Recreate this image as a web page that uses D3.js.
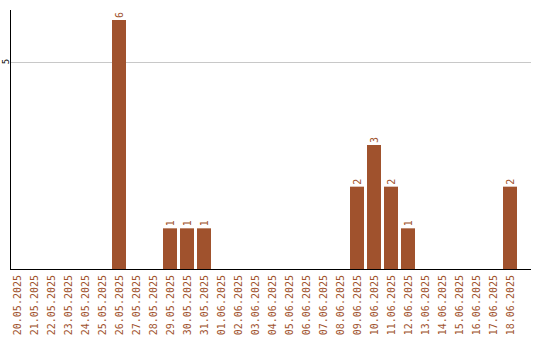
<!DOCTYPE html>
<html>
<head>
<meta charset="utf-8">
<script src="https://cdn.jsdelivr.net/npm/d3@7"></script>
<style>
  body { margin: 0; background: #fff; }
  text { font-family: "DejaVu Sans Mono", monospace; font-size: 10px; }
</style>
</head>
<body>
<div id="chart"></div>
<script>
const dates = ["20.05.2025","21.05.2025","22.05.2025","23.05.2025","24.05.2025","25.05.2025",
  "26.05.2025","27.05.2025","28.05.2025","29.05.2025","30.05.2025","31.05.2025",
  "01.06.2025","02.06.2025","03.06.2025","04.06.2025","05.06.2025","06.06.2025",
  "07.06.2025","08.06.2025","09.06.2025","10.06.2025","11.06.2025","12.06.2025",
  "13.06.2025","14.06.2025","15.06.2025","16.06.2025","17.06.2025","18.06.2025"];
const counts = [0,0,0,0,0,0, 6,0,0,1,1,1, 0,0,0,0,0,0, 0,0,2,3,2,1, 0,0,0,0,0,2];
const yTicks = [5];

const color = "#a0522d";
const width = 540, height = 340;

const data = dates.map((d, i) => ({ date: d, value: counts[i] }));

const svg = d3.select("#chart")
  .append("svg")
  .attr("width", width)
  .attr("height", height);

const xScale = d3.scaleBand()
  .domain(dates)
  .range([10, 517])
  .paddingInner(3 / 17)
  .paddingOuter(0);

const yScale = d3.scaleLinear()
  .domain([0, 6])
  .range([270, 20]);

// grid
svg.selectAll(".grid")
  .data(yTicks)
  .enter()
  .append("line")
  .attr("x1", 11)
  .attr("x2", 531)
  .attr("y1", d => Math.round(yScale(d)) + 0.5)
  .attr("y2", d => Math.round(yScale(d)) + 0.5)
  .attr("stroke", "#c8c8c8");

// bars
svg.selectAll(".bar")
  .data(data.filter(d => d.value > 0))
  .enter()
  .append("rect")
  .attr("class", "bar")
  .attr("x", d => xScale(d.date))
  .attr("y", d => yScale(d.value))
  .attr("width", xScale.bandwidth())
  .attr("height", d => yScale(0) - yScale(d.value))
  .attr("fill", color);

// value labels
svg.selectAll(".label")
  .data(data.filter(d => d.value > 0))
  .enter()
  .append("text")
  .attr("class", "label")
  .attr("transform", d => `translate(${xScale(d.date) + xScale.bandwidth() / 2 + 3.5},${yScale(d.value) - 2}) rotate(-90)`)
  .attr("fill", color)
  .text(d => d.value);

// axes lines
svg.append("line")
  .attr("x1", 10.5).attr("x2", 10.5)
  .attr("y1", 10).attr("y2", 270)
  .attr("stroke", "#000");
svg.append("line")
  .attr("x1", 10).attr("x2", 531)
  .attr("y1", 269.5).attr("y2", 269.5)
  .attr("stroke", "#000");

// y tick labels
svg.selectAll(".ytick")
  .data(yTicks)
  .enter()
  .append("text")
  .attr("transform", d => `translate(8.5,${yScale(d)}) rotate(-90)`)
  .attr("text-anchor", "middle")
  .attr("fill", "#000")
  .style("font-size", "9px")
  .text(d => d);

// x labels
svg.selectAll(".xlabel")
  .data(dates)
  .enter()
  .append("text")
  .attr("transform", d => `translate(${xScale(d) + xScale.bandwidth() / 2 + 3.5},275) rotate(-90)`)
  .attr("text-anchor", "end")
  .attr("fill", color)
  .text(d => d);
</script>
</body>
</html>
